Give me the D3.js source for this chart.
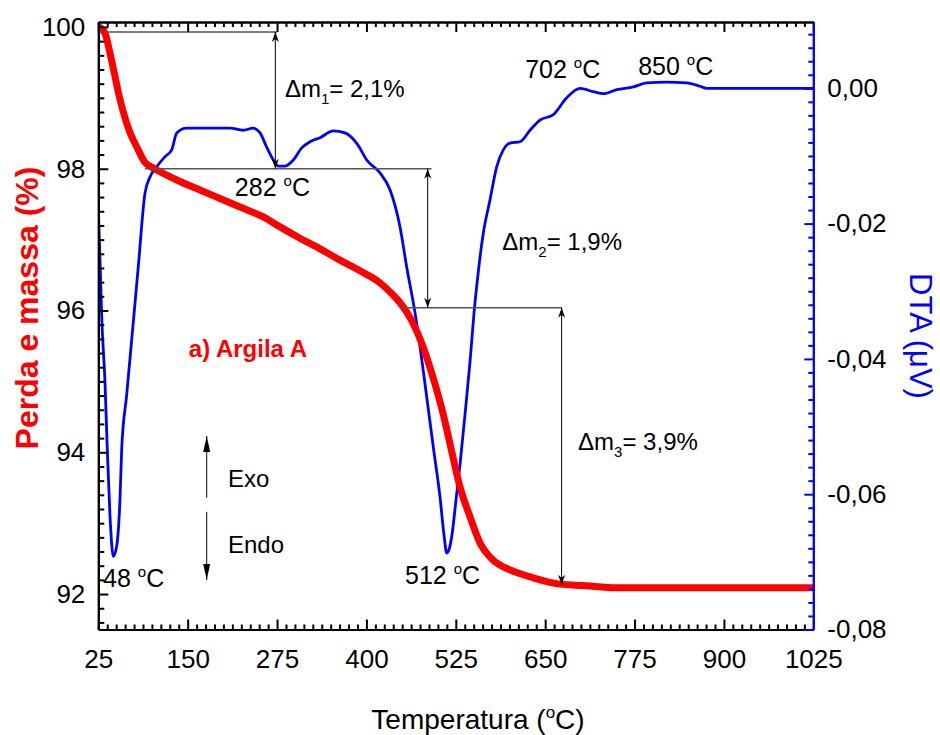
<!DOCTYPE html>
<html>
<head>
<meta charset="utf-8">
<script src="https://cdn.jsdelivr.net/npm/d3@7"></script>
<style>
  body { margin: 0; background: #fff; }
  text { font-family: "Liberation Sans", Arial, sans-serif; }
</style>
</head>
<body>
<svg id="chart"></svg>
<script>
/* ---------- dados ---------- */

// TG: perda de massa (%)
var tgTemp = [25, 34.4, 41.4, 48.4, 55.3, 62.3, 69.3, 78.7, 90.3, 101.9, 120.7, 139.3, 167.2, 195.2,
              223.2, 255.8, 279.1, 307.1, 335.1, 363.0, 391.0, 419.0, 437.2, 447.0, 456.8, 465.2,
              479.2, 493.1, 507.1, 521.1, 530.9, 544.9, 558.9, 577.1, 600.9, 633.0, 670.8, 703.0,
              750.6, 866.7, 1025];
var tgMass = [100.01, 99.91, 99.63, 99.30, 98.98, 98.72, 98.51, 98.31, 98.09, 98.01, 97.91, 97.82, 97.70, 97.58,
              97.46, 97.32, 97.18, 97.02, 96.87, 96.71, 96.56, 96.39, 96.22, 96.11, 95.97, 95.82,
              95.49, 95.06, 94.55, 93.93, 93.51, 93.09, 92.72, 92.48, 92.34, 92.23, 92.14, 92.12,
              92.09, 92.09, 92.09];

// DTA (µV)
var dtaTemp = [25, 27.4, 29.8, 34.4, 37.6, 41.4, 46.0, 50.7, 55.3, 57.7, 64.7, 71.7, 80.9, 90.3,
               97.3, 106.7, 118.3, 127.7, 134.7, 148.6, 167.2, 209.4, 227.4, 241.4, 251.2, 260.5,
               269.8, 276.7, 286.1, 297.7, 309.5, 321.1, 335.1, 353.7, 370.0, 388.2, 400.4, 419.0,
               433.0, 447.0, 456.3, 468.0, 475.0, 484.3, 493.5, 502.9, 508.5, 512.3, 515.5, 519.7,
               525.3, 530.9, 537.9, 544.9, 550.5, 554.7, 563.5, 572.8, 582.2, 591.4, 600.8, 614.8,
               628.8, 642.7, 661.4, 680.1, 698.7, 717.3, 731.3, 750.1, 773.3, 792.0, 820.0, 848.0,
               866.5, 875.9, 1025];
var dtaVal = [-0.0177, -0.0254, -0.0338, -0.0436, -0.0534, -0.0633, -0.0692, -0.0677, -0.0608, -0.0534, -0.0453, -0.0372, -0.0264, -0.0155,
              -0.0131, -0.0116, -0.0101, -0.0091, -0.0066, -0.0059, -0.0059, -0.0059, -0.0062, -0.0059, -0.0066, -0.0087,
              -0.0106, -0.0115, -0.0115, -0.0106, -0.0088, -0.0079, -0.0073, -0.0063, -0.0066, -0.0084, -0.0106, -0.0125,
              -0.0150, -0.0205, -0.0264, -0.0332, -0.0382, -0.0456, -0.0530, -0.0604, -0.0660, -0.0687, -0.0682, -0.0660,
              -0.0608, -0.0556, -0.0482, -0.0404, -0.0332, -0.0288, -0.0214, -0.0165, -0.0116, -0.0091, -0.0081, -0.0079,
              -0.0062, -0.0047, -0.0039, -0.0014, 0.0000, -0.0005, -0.0008, -0.0002, 0.0002, 0.0008, 0.0009, 0.0008,
              0.0003, 0.0000, 0.0000];

// eixos
var xTicks = [25, 150, 275, 400, 525, 650, 775, 900, 1025];
var massTicks = [92, 94, 96, 98, 100];
var dtaTicks = [-0.08, -0.06, -0.04, -0.02, 0];

// degraus de massa (temperatura, massa %)
var stepLevels = [
    {t0: 38.7, t1: 275, v: 99.93},
    {t0: 90, t1: 491, v: 98.0},
    {t0: 447, t1: 673.4, v: 96.04}
];
var stepArrows = [
    {t: 272.6, v0: 99.93, v1: 98.0},
    {t: 485.7, v0: 98.0, v1: 96.04},
    {t: 673, v0: 96.04, v1: 92.13}
];
var stepLabels = [
    {t: 286, v: 99.01, sub: "1", text: "= 2,1%"},
    {t: 590, v: 96.85, sub: "2", text: "= 1,9%"},
    {t: 696, v: 94.03, sub: "3", text: "= 3,9%"}
];
// picos DTA (posição do rótulo em temperatura / massa %)
var peakLabels = [
    {t: 31.6, v: 92.10, text: "48"},
    {t: 216, v: 97.62, text: "282"},
    {t: 454, v: 92.14, text: "512"},
    {t: 622, v: 99.28, text: "702"},
    {t: 780, v: 99.32, text: "850"}
];

/* ---------- dimensões ---------- */

var WIDTH = 940, HEIGHT = 735;
var L = 98.3, R = 813.3, T = 22, B = 629.5;

var svg = d3.select("#chart").attr("width", WIDTH).attr("height", HEIGHT);

var x = d3.scaleLinear().domain([25, 1025]).range([L, R]);
var yMass = d3.scaleLinear().domain([91.5, 100.07]).range([B, T]);
var yDta = d3.scaleLinear().domain([-0.08, 0.0098]).range([B, T]);

var defs = svg.append("defs");
defs.append("clipPath").attr("id", "plot")
  .append("rect").attr("x", L).attr("y", T).attr("width", R - L).attr("height", B - T);

defs.append("marker").attr("id", "head")
    .attr("viewBox", "-10 -5 11 10").attr("refX", 0).attr("refY", 0)
    .attr("markerWidth", 11).attr("markerHeight", 10)
    .attr("markerUnits", "userSpaceOnUse")
    .attr("orient", "auto-start-reverse")
  .append("path").attr("d", "M0,0 L-10,-3.5 L-7,0 L-10,3.5 Z").attr("fill", "#000");

defs.append("marker").attr("id", "solid")
    .attr("viewBox", "-16 -4 17 8").attr("refX", 0).attr("refY", 0)
    .attr("markerWidth", 17).attr("markerHeight", 8)
    .attr("markerUnits", "userSpaceOnUse")
    .attr("orient", "auto")
  .append("path").attr("d", "M0,0 L-16,-3.5 L-16,3.5 Z").attr("fill", "#000");

/* ---------- curvas ---------- */

var tgData = tgTemp.map(function(t, i) { return [t, tgMass[i]]; });
var dtaData = dtaTemp.map(function(t, i) { return [t, dtaVal[i]]; });

var plot = svg.append("g").attr("clip-path", "url(#plot)");

plot.append("path")
    .datum(dtaData)
    .attr("fill", "none")
    .attr("stroke", "#0000ff")
    .attr("stroke-width", 2.8)
    .attr("d", d3.line().curve(d3.curveMonotoneX)
        .x(function(d) { return x(d[0]); })
        .y(function(d) { return yDta(d[1]); }));

plot.append("path")
    .datum(tgData)
    .attr("fill", "none")
    .attr("stroke", "#ff0000")
    .attr("stroke-width", 7)
    .attr("stroke-linejoin", "round")
    .attr("d", d3.line().curve(d3.curveMonotoneX)
        .x(function(d) { return x(d[0]); })
        .y(function(d) { return yMass(d[1]); }));

/* ---------- anotações ---------- */

svg.append("g").selectAll("line")
    .data(stepLevels).enter().append("line")
    .attr("x1", function(d) { return x(d.t0); })
    .attr("x2", function(d) { return x(d.t1); })
    .attr("y1", function(d) { return yMass(d.v); })
    .attr("y2", function(d) { return yMass(d.v); })
    .attr("stroke", "#555")
    .attr("stroke-width", 1.5);

svg.append("g").selectAll("line")
    .data(stepArrows).enter().append("line")
    .attr("x1", function(d) { return x(d.t); })
    .attr("x2", function(d) { return x(d.t); })
    .attr("y1", function(d) { return yMass(d.v0); })
    .attr("y2", function(d) { return yMass(d.v1); })
    .attr("stroke", "#000")
    .attr("stroke-width", 1)
    .attr("marker-start", "url(#head)")
    .attr("marker-end", "url(#head)");

var dm = svg.append("g").selectAll("text")
    .data(stepLabels).enter().append("text")
    .attr("x", function(d) { return x(d.t); })
    .attr("y", function(d) { return yMass(d.v); })
    .attr("font-size", 24);
dm.append("tspan").text("\u0394m");
dm.append("tspan").attr("font-size", 15).attr("dy", 7).text(function(d) { return d.sub; });
dm.append("tspan").attr("dy", -7).text(function(d) { return d.text; });

var pk = svg.append("g").selectAll("text")
    .data(peakLabels).enter().append("text")
    .attr("x", function(d) { return x(d.t); })
    .attr("y", function(d) { return yMass(d.v); })
    .attr("font-size", 25);
pk.append("tspan").text(function(d) { return d.text + " "; });
pk.append("tspan").attr("font-size", 15).attr("dy", -10).text("o");
pk.append("tspan").attr("dy", 10).text("C");

svg.append("text")
    .attr("x", x(151.6)).attr("y", yMass(95.35))
    .attr("font-size", 24).attr("font-weight", "bold").attr("fill", "#ff0000")
    .text("a) Argila A");

// Exo / Endo
svg.append("line")
    .attr("x1", x(176.6)).attr("x2", x(176.6))
    .attr("y1", yMass(93.36)).attr("y2", yMass(94.23))
    .attr("stroke", "#000").attr("stroke-width", 1)
    .attr("marker-end", "url(#solid)");
svg.append("line")
    .attr("x1", x(176.6)).attr("x2", x(176.6))
    .attr("y1", yMass(93.16)).attr("y2", yMass(92.20))
    .attr("stroke", "#000").attr("stroke-width", 1)
    .attr("marker-end", "url(#solid)");
svg.append("text").attr("x", x(206.4)).attr("y", yMass(93.51)).attr("font-size", 24).text("Exo");
svg.append("text").attr("x", x(206.4)).attr("y", yMass(92.58)).attr("font-size", 24).text("Endo");

/* ---------- eixos ---------- */

function minors(a, b, step, majors) {
    var out = [];
    for (var i = 0; a + i * step <= b + 1e-9; i++) {
        var v = +(a + i * step).toFixed(6);
        if (!majors.some(function(m) { return Math.abs(m - v) < 1e-9; })) out.push(v);
    }
    return out;
}

var xMinor = minors(25, 1025, 12.5, xTicks);
var massMinor = minors(91.6, 100.06, 0.2, massTicks);
var dtaMinor = minors(-0.08, 0.0098, 0.002, dtaTicks);

function styleAxis(g, color) {
    g.select(".domain").attr("stroke", color).attr("stroke-width", 2);
    g.selectAll(".tick line").attr("stroke", color).attr("stroke-width", 2);
    g.selectAll(".tick text").attr("fill", "#000").attr("font-size", 26)
        .attr("font-family", "'Liberation Sans', Arial, sans-serif");
}

// inferior
var gB = svg.append("g").attr("transform", "translate(0," + B + ")")
    .call(d3.axisBottom(x).tickValues(xTicks).tickSize(-10).tickSizeOuter(0).tickPadding(20)
        .tickFormat(d3.format("d")));
svg.append("g").attr("transform", "translate(0," + B + ")")
    .call(d3.axisBottom(x).tickValues(xMinor).tickSize(-5).tickSizeOuter(0).tickFormat(""))
    .call(function(g) { styleAxis(g, "#000"); });
styleAxis(gB, "#000");

// superior
svg.append("g").attr("transform", "translate(0," + T + ")")
    .call(d3.axisTop(x).tickValues(xTicks).tickSize(-10).tickSizeOuter(0).tickFormat(""))
    .call(function(g) { styleAxis(g, "#000"); });
svg.append("g").attr("transform", "translate(0," + T + ")")
    .call(d3.axisTop(x).tickValues(xMinor).tickSize(-5).tickSizeOuter(0).tickFormat(""))
    .call(function(g) { styleAxis(g, "#000"); });

// esquerdo
var gL = svg.append("g").attr("transform", "translate(" + L + ",0)")
    .call(d3.axisLeft(yMass).tickValues(massTicks).tickSize(-10).tickSizeOuter(0).tickPadding(13));
svg.append("g").attr("transform", "translate(" + L + ",0)")
    .call(d3.axisLeft(yMass).tickValues(massMinor).tickSize(-6).tickSizeOuter(0).tickFormat(""))
    .call(function(g) { styleAxis(g, "#000"); });
styleAxis(gL, "#000");

// direito (DTA)
var fmt = d3.format(".2f");
var gR = svg.append("g").attr("transform", "translate(" + R + ",0)")
    .call(d3.axisRight(yDta).tickValues(dtaTicks).tickSize(-9).tickSizeOuter(0).tickPadding(14)
        .tickFormat(function(d) { return fmt(d).replace("\u2212", "-").replace(".", ","); }));
svg.append("g").attr("transform", "translate(" + R + ",0)")
    .call(d3.axisRight(yDta).tickValues(dtaMinor).tickSize(-5).tickSizeOuter(0).tickFormat(""))
    .call(function(g) { styleAxis(g, "#0000ff"); });
styleAxis(gR, "#0000ff");

/* ---------- títulos ---------- */

var xt = svg.append("text")
    .attr("x", 478).attr("y", 729)
    .attr("text-anchor", "middle").attr("font-size", 28);
xt.append("tspan").text("Temperatura (");
xt.append("tspan").attr("font-size", 17).attr("dy", -11).text("o");
xt.append("tspan").attr("dy", 11).text("C)");

svg.append("text")
    .attr("transform", "translate(38,308) rotate(-90)")
    .attr("text-anchor", "middle")
    .attr("font-size", 32).attr("font-weight", "bold").attr("fill", "#ff0000")
    .text("Perda e massa (%)");

svg.append("text")
    .attr("transform", "translate(910,336) rotate(90)")
    .attr("text-anchor", "middle")
    .attr("font-size", 31).attr("fill", "#0000ff")
    .text("DTA (\u03bcV)");
</script>
</body>
</html>
